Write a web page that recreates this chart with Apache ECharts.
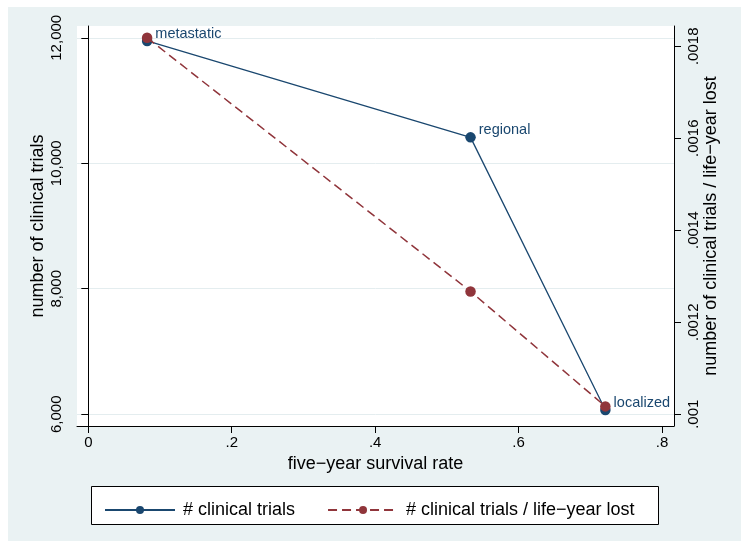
<!DOCTYPE html>
<html><head><meta charset="utf-8">
<script src="https://cdn.jsdelivr.net/npm/echarts@6/dist/echarts.min.js"></script>
<style>html,body{margin:0;padding:0;background:#fff}#c{width:751px;height:551px}</style>
</head><body><div id="c"></div>
<script>
// ---- data ----
const survivalRate = [0.082, 0.533, 0.721];
const stageLabels = ['metastatic', 'regional', 'localized'];
const clinicalTrials = [11950, 10413, 6066];
const trialsPerLifeYearLost = [0.0018185, 0.001267, 0.001017];
const xTicks = [0, 0.2, 0.4, 0.6, 0.8];
const yLeftTicks = [6000, 8000, 10000, 12000];
const yRightTicks = [0.001, 0.0012, 0.0014, 0.0016, 0.0018];
const seriesNames = ['# clinical trials', '# clinical trials / life\u2212year lost'];

// ---- chart ----
const FONT = "'Liberation Sans', Arial, Helvetica, sans-serif";
function padRange(vals, fLo, fHi) {
  const lo = Math.min(...vals), hi = Math.max(...vals), r = hi - lo;
  return [lo - r * fLo, hi + r * fHi];
}
const xr = padRange(xTicks.concat(survivalRate), 0.0197, 0.0209);
const yl = padRange(yLeftTicks.concat(clinicalTrials), 0.0313, 0.0313);
const yr = padRange(yRightTicks.concat(trialsPerLifeYearLost), 0.0313, 0.0313);
const fmtDec = v => (Math.abs(v) < 1e-12 ? '0' : String(+(+v).toPrecision(6)).replace(/^0\./, '.'));
const fmtThousands = v => Math.round(v).toLocaleString('en-US');

const chart = echarts.init(document.getElementById('c'), null, {renderer: 'canvas'});
chart.setOption({
  animation: false,
  backgroundColor: '#ffffff',
  textStyle: {fontFamily: FONT},
  graphic: [
    {type: 'rect', z: -100, silent: true, shape: {x: 8, y: 7, width: 733, height: 534}, style: {fill: '#eaf2f3'}},
    {type: 'rect', z: -50, silent: true, shape: {x: 91.5, y: 486.5, width: 567, height: 38}, style: {fill: '#ffffff', stroke: '#000000', lineWidth: 1}}
  ],
  grid: {left: 77, right: 77, top: 26, bottom: 125, show: true, backgroundColor: '#ffffff', borderWidth: 0},
  xAxis: {
    type: 'value', min: xr[0], max: xr[1],
    axisLine: {show: true, lineStyle: {color: '#000', width: 1}},
    axisTick: {show: true, customValues: xTicks, length: 7, lineStyle: {color: '#000'}},
    axisLabel: {customValues: xTicks, formatter: fmtDec, color: '#000', fontSize: 15, margin: 9, fontFamily: FONT},
    splitLine: {show: false},
    name: 'five\u2212year survival rate', nameLocation: 'middle', nameGap: 29, nameMoveOverlap: false,
    nameTextStyle: {fontSize: 18, color: '#000', fontFamily: FONT}
  },
  yAxis: [
    {
      type: 'value', position: 'left', min: yl[0], max: yl[1],
      axisLine: {show: true, lineStyle: {color: '#000', width: 1}},
      axisTick: {show: true, customValues: yLeftTicks, length: 7, lineStyle: {color: '#000'}},
      axisLabel: {customValues: yLeftTicks, rotate: 90, formatter: fmtThousands, color: '#000', fontSize: 15, margin: 13, fontFamily: FONT},
      splitLine: {show: true, lineStyle: {color: '#e4edef', width: 1}},
      name: 'number of clinical trials', nameLocation: 'middle', nameRotate: 90, nameGap: 30, nameMoveOverlap: false,
      nameTextStyle: {fontSize: 18, color: '#000', fontFamily: FONT}
    },
    {
      type: 'value', position: 'right', min: yr[0], max: yr[1], alignTicks: false,
      axisLine: {show: true, lineStyle: {color: '#000', width: 1}},
      axisTick: {show: true, customValues: yRightTicks, length: 7, lineStyle: {color: '#000'}},
      axisLabel: {customValues: yRightTicks, rotate: 90, formatter: fmtDec, color: '#000', fontSize: 15, margin: 12, fontFamily: FONT},
      splitLine: {show: false},
      name: 'number of clinical trials / life\u2212year lost', nameLocation: 'middle', nameRotate: 90, nameGap: 28, nameMoveOverlap: false,
      nameTextStyle: {fontSize: 18, color: '#000', fontFamily: FONT}
    }
  ],
  legend: {
    left: 99, top: 496, itemWidth: 70, itemHeight: 10, itemGap: 32,
    textStyle: {fontSize: 18, color: '#000', fontFamily: FONT, padding: [0, 0, 0, 3]},
    data: seriesNames
  },
  series: [
    {
      name: seriesNames[0], type: 'line', yAxisIndex: 0, z: 2,
      data: survivalRate.map((x, i) => [x, clinicalTrials[i]]),
      symbol: 'circle', symbolSize: 10.5, showAllSymbol: true,
      itemStyle: {color: '#1a476f'},
      lineStyle: {color: '#1a476f', width: 1.3},
      label: {show: true, position: 'right', distance: 3, offset: [0, -7],
        formatter: p => stageLabels[p.dataIndex], color: '#1a476f', fontSize: 14.5, fontFamily: FONT}
    },
    {
      name: seriesNames[1], type: 'line', yAxisIndex: 1, z: 3,
      data: survivalRate.map((x, i) => [x, trialsPerLifeYearLost[i]]),
      symbol: 'circle', symbolSize: 10.5, showAllSymbol: true,
      itemStyle: {color: '#90353b'},
      lineStyle: {color: '#90353b', width: 1.5, type: [9, 5]}
    }
  ]
});
</script></body></html>
